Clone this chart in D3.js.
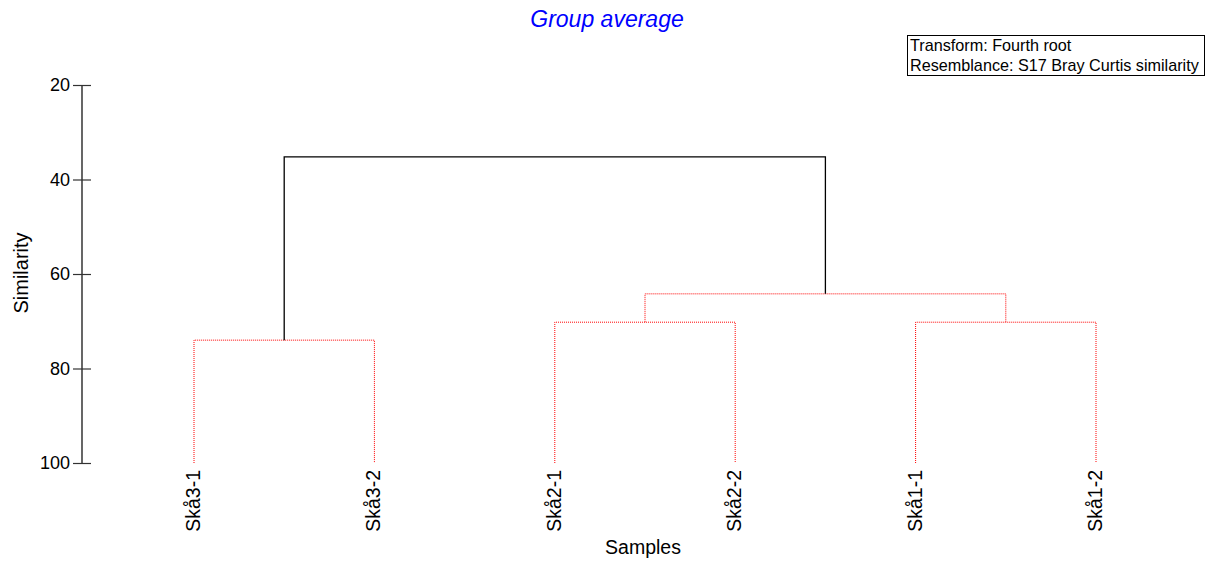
<!DOCTYPE html>
<html><head><meta charset="utf-8">
<script src="https://cdn.jsdelivr.net/npm/d3@7"></script>
<style>body{margin:0;background:#fff;}svg{display:block;font-family:Arial,"Liberation Sans",sans-serif;}</style>
</head><body>
<svg id="c" width="1208" height="562"></svg>
<script>
const leaves = ["Skå3-1","Skå3-2","Skå2-1","Skå2-2","Skå1-1","Skå1-2"];
// clusters: 0..5 leaves, 6.. merges in order
const mergeLeft  = [0, 2, 4, 7, 6];
const mergeRight = [1, 3, 5, 8, 9];
const mergeSim   = [74.0, 70.2, 70.2, 64.2, 35.2];
const mergeSignificant = [false, false, false, false, true];
const yTicks = [20, 40, 60, 80, 100];

const svg = d3.select("#c");
const x = d3.scalePoint().domain(leaves).range([194, 1096]);
const y = d3.scaleLinear().domain([20, 100]).range([85, 463]);

const nodeX = leaves.map(l => x(l));
const nodeY = leaves.map(() => y(100));
mergeLeft.forEach((l, i) => {
  const r = mergeRight[i];
  nodeX.push((nodeX[l] + nodeX[r]) / 2);
  nodeY.push(y(mergeSim[i]));
});

const g = svg.append("g");
const order = d3.range(mergeLeft.length).sort((a,b)=> (mergeSignificant[a]?1:0)-(mergeSignificant[b]?1:0));
order.forEach(i => {
  const l = mergeLeft[i], r = mergeRight[i], id = leaves.length + i;
  const yy = nodeY[id];
  const p = d3.path();
  p.moveTo(nodeX[l], nodeY[l]); p.lineTo(nodeX[l], yy);
  p.lineTo(nodeX[r], yy); p.lineTo(nodeX[r], nodeY[r]);
  const sig = mergeSignificant[i];
  g.append("path").attr("d", p.toString()).attr("fill", "none")
    .attr("stroke", sig ? "#000" : "#ff0000")
    .attr("stroke-width", sig ? 1.3 : 1)
    .attr("stroke-dasharray", sig ? null : "1,1");
});

// y axis
svg.append("line").attr("x1", 82).attr("x2", 82).attr("y1", y(20)).attr("y2", y(100))
  .attr("stroke", "#000").attr("stroke-width", 1.2);
const ax = svg.append("g").attr("transform", "translate(91,0)")
  .call(d3.axisLeft(y).tickValues(yTicks).tickSize(18).tickPadding(3).tickFormat(d3.format("d")));
ax.select(".domain").remove();
ax.selectAll(".tick line").attr("stroke", "#333").attr("stroke-width", 1.2);
ax.selectAll(".tick text").attr("font-size", 18).attr("fill", "#000").attr("font-family", "Arial,'Liberation Sans',sans-serif");

// leaf labels
svg.append("g").selectAll("text").data(leaves).join("text")
  .attr("transform", d => `translate(${x(d)+6},470) rotate(-90)`)
  .attr("text-anchor", "end").attr("font-size", 19.5).attr("fill", "#000")
  .text(d => d);

// axis titles
svg.append("text").attr("x", 643).attr("y", 554).attr("text-anchor", "middle")
  .attr("font-size", 19.5).text("Samples");
svg.append("text").attr("transform", "translate(28,273) rotate(-90)").attr("text-anchor", "middle")
  .attr("font-size", 20).text("Similarity");

// title
svg.append("text").attr("x", 607).attr("y", 27).attr("text-anchor", "middle")
  .attr("font-size", 23).attr("font-style", "italic").attr("fill", "#0000ff").text("Group average");

// legend box
svg.append("rect").attr("x", 907.5).attr("y", 35.5).attr("width", 297).attr("height", 40)
  .attr("fill", "#fff").attr("stroke", "#000").attr("stroke-width", 1);
svg.append("text").attr("x", 910).attr("y", 51).attr("font-size", 16.2).text("Transform: Fourth root");
svg.append("text").attr("x", 910).attr("y", 70.5).attr("font-size", 16.2).text("Resemblance: S17 Bray Curtis similarity");
</script>
</body></html>
